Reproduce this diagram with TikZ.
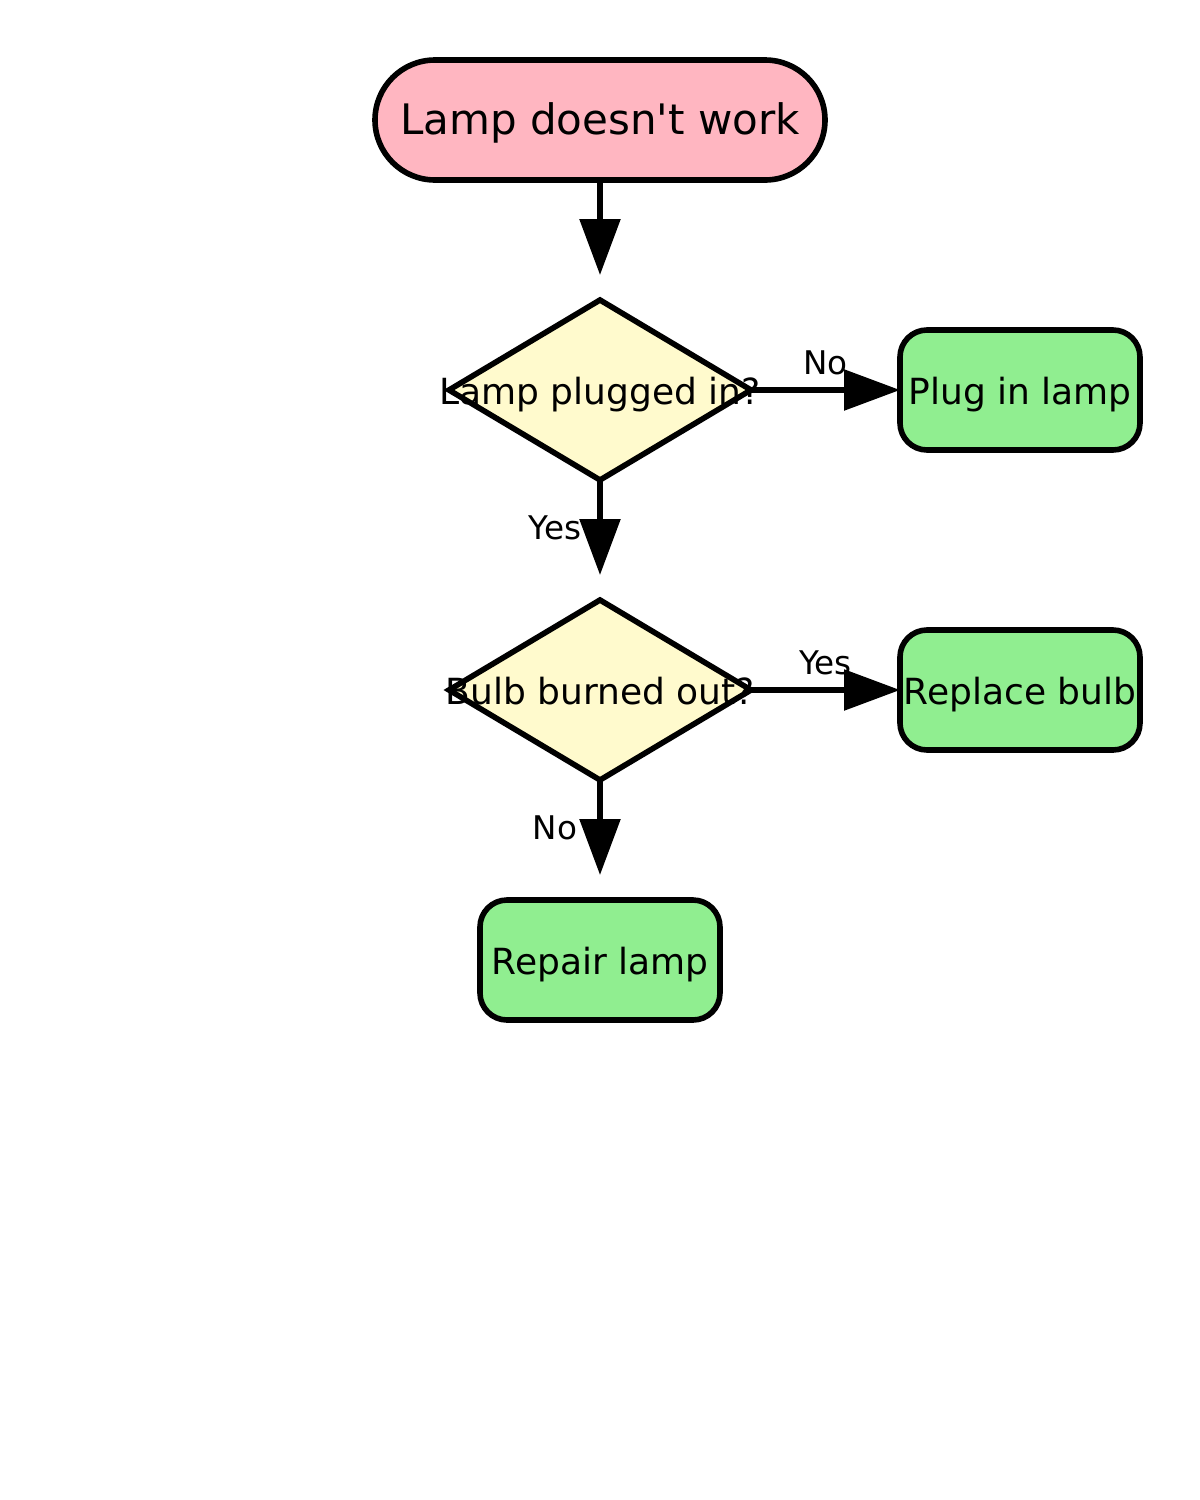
\documentclass[tikz,border=0pt]{standalone}
\usepackage{fontspec}
\setmainfont{DejaVu Sans}[Ligatures=TeXOff]
\usetikzlibrary{shapes.geometric,arrows.meta}
\definecolor{pinkfill}{HTML}{FFB6C1}
\definecolor{greenfill}{HTML}{90EE90}
\definecolor{yellowfill}{HTML}{FFFACD}
\begin{document}
\begin{tikzpicture}[x=0.5pt,y=-0.5pt,
  base/.style={draw=black, line width=2.8pt, inner sep=0pt, outer sep=0pt, align=center,
    text height=14pt, text depth=0pt},
  terminal/.style={base, fill=pinkfill, rounded corners=30pt, minimum width=225pt, minimum height=60pt,
    font=\fontsize{21}{25}\selectfont},
  decision/.style={base, diamond, fill=yellowfill, minimum width=151pt, minimum height=90pt},
  action/.style={base, fill=greenfill, rounded corners=13.5pt, minimum width=120pt, minimum height=60pt,
    font=\fontsize{18}{22}\selectfont},
  dtext/.style={font=\fontsize{18}{22}\selectfont, inner sep=0pt, text height=14pt, text depth=0pt},
  lbl/.style={font=\fontsize{16.3}{19}\selectfont, inner sep=0pt},
  arr/.style={line width=2.8pt, -{Triangle[length=28pt,width=20pt]}},
]
\useasboundingbox (0,0) rectangle (1200,1500);

\node[terminal] (start) at (600,120) {Lamp doesn't work};
\node[decision, label={[dtext, name=d1t]center:Lamp plugged in?}] (d1) at (600,390) {};
\node[action] (b1) at (1020,390) {Plug in lamp};
\node[decision, label={[dtext, name=d2t]center:Bulb burned out?}] (d2) at (600,690) {};
\node[action] (b2) at (1020,690) {Replace bulb};
\node[action] (b3) at (600,960) {Repair lamp};

\draw[arr, shorten >=12.5pt] (start) -- (d1);
\draw[arr] (d1) -- node[lbl, midway, yshift=13.5pt] (l1) {No} (b1);
\draw[arr, shorten >=12.5pt] (d1) -- node[lbl, pos=0.4, xshift=-22.5pt] (l2) {Yes} (d2);
\draw[arr] (d2) -- node[lbl, midway, yshift=13.5pt] (l3) {Yes} (b2);
\draw[arr, shorten >=12.5pt] (d2) -- node[lbl, pos=0.4, xshift=-22.5pt] (l4) {No} (b3);
\end{tikzpicture}
\end{document}
